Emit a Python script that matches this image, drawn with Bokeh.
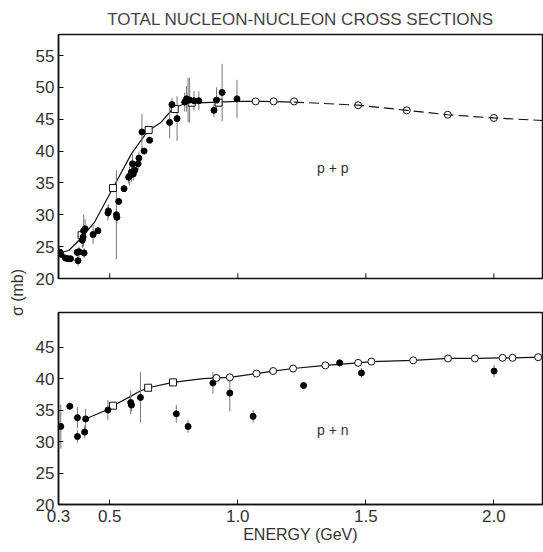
import math
from bokeh.plotting import figure
from bokeh.layouts import row, column
from bokeh.models import FixedTicker, NumeralTickFormatter
from bokeh.core.properties import value
from bokeh.embed import file_html
from bokeh.resources import INLINE

# ---------------- data: p + p ----------------
pp_curve_e = [0.30, 0.34, 0.39, 0.44, 0.51, 0.585, 0.65, 0.70, 0.75, 0.80, 0.92, 1.00, 1.10, 1.22]
pp_curve_s = [24.0, 24.4, 26.4, 28.8, 34.0, 39.6, 43.2, 44.5, 46.8, 47.5, 47.7, 47.8, 47.8, 47.7]
pp_dash_e = [1.22, 1.47, 1.66, 1.82, 2.00, 2.19]
pp_dash_s = [47.7, 47.2, 46.4, 45.7, 45.2, 44.8]

pp_sq_e = [0.30, 0.39, 0.513, 0.652, 0.754, 0.82, 0.925]
pp_sq_s = [24.0, 26.8, 34.2, 43.3, 46.6, 47.6, 47.6]
pp_circ_e = [1.07, 1.14, 1.22, 1.47, 1.66, 1.82, 2.00]
pp_circ_s = [47.8, 47.8, 47.8, 47.2, 46.4, 45.7, 45.2]

pp_e = [0.305, 0.31, 0.327, 0.337, 0.347, 0.376, 0.373, 0.38, 0.393, 0.396, 0.398, 0.40,
        0.404, 0.435, 0.454, 0.493, 0.495, 0.526, 0.528, 0.535, 0.556, 0.574, 0.578,
        0.585, 0.589, 0.592, 0.598, 0.611, 0.614, 0.626, 0.634, 0.656, 0.734, 0.743,
        0.763, 0.793, 0.80, 0.806, 0.812, 0.829, 0.848, 0.907, 0.917, 0.939, 0.997]
pp_s = [24.1, 23.8, 23.2, 23.1, 23.1, 22.8, 24.1, 24.2, 26.0, 26.5, 27.5, 24.0,
        27.8, 26.9, 27.5, 30.3, 30.6, 30.0, 29.6, 32.1, 34.1, 35.9, 36.1,
        36.7, 38.0, 36.4, 37.0, 38.0, 38.9, 43.0, 40.0, 41.7, 44.5, 47.3,
        45.1, 47.7, 48.2, 48.0, 48.0, 47.9, 47.9, 46.4, 48.0, 49.2, 48.2]
pp_err = [0.8, 0.5, 0.4, 0.3, 0.3, 0.8, 0.6, 0.8, 1.2, 1.5, 2.5, 0.8,
          1.5, 1.5, 0.5, 1.2, 1.0, 7.0, 1.0, 0.5, 0.5, 1.0, 1.5,
          1.5, 1.5, 1.0, 1.0, 1.0, 1.0, 2.8, 0.5, 0.5, 2.5, 1.0,
          3.5, 1.5, 2.0, 3.5, 3.5, 1.5, 1.5, 1.0, 2.0, 4.5, 3.0]

# ---------------- data: p + n ----------------
pn_curve_e = [0.40, 0.50, 0.513, 0.578, 0.617, 0.65, 0.747, 0.864, 0.917, 0.969, 1.073, 1.138,
              1.216, 1.342, 1.47, 1.522, 1.685, 1.821, 1.926, 2.034, 2.073, 2.19]
pn_curve_s = [33.5, 35.2, 35.7, 37.1, 38.0, 38.55, 39.4, 40.0, 40.1, 40.2, 40.8, 41.2,
              41.6, 42.1, 42.5, 42.7, 42.9, 43.2, 43.2, 43.3, 43.3, 43.4]
pn_sq_e = [0.513, 0.65, 0.747]
pn_sq_s = [35.7, 38.55, 39.4]
pn_circ_e = [0.917, 0.969, 1.073, 1.138, 1.216, 1.342, 1.47, 1.522, 1.685, 1.821, 1.926, 2.034, 2.073, 2.173]
pn_circ_s = [40.1, 40.2, 40.8, 41.2, 41.6, 42.1, 42.5, 42.7, 42.9, 43.2, 43.2, 43.3, 43.3, 43.4]

pn_e = [0.309, 0.344, 0.374, 0.374, 0.402, 0.406, 0.493, 0.582, 0.585, 0.62, 0.76, 0.806,
        0.903, 0.969, 1.06, 1.257, 1.398, 1.483, 2.001]
pn_s = [32.4, 35.6, 33.8, 30.8, 31.5, 33.6, 35.0, 36.2, 35.8, 37.0, 34.4, 32.4,
        39.3, 37.7, 34.0, 38.9, 42.5, 40.9, 41.2]
pn_err = [3.5, 0.5, 1.7, 1.0, 1.0, 1.6, 1.6, 1.9, 1.0, 4.0, 1.4, 1.0,
          1.7, 2.9, 1.0, 0.5, 0.5, 0.8, 1.0]

x_ticks = [0.3, 0.5, 1.0, 1.5, 2.0]
top_y_ticks = [20, 25, 30, 35, 40, 45, 50, 55]
bot_y_ticks = [20, 25, 30, 35, 40, 45]

FONT = "Liberation Sans"
TXT = "#333333"
INK = "#111111"


def style_axis(ax):
    ax.axis_line_color = INK
    ax.axis_line_width = 1.5
    ax.major_tick_in = 5
    ax.major_tick_out = 0
    ax.minor_tick_line_color = None
    ax.major_tick_line_color = INK
    ax.major_label_text_font = FONT
    ax.major_label_text_font_size = "17px"
    ax.major_label_text_color = TXT


def style(p, y_ticks):
    p.xgrid.visible = False
    p.ygrid.visible = False
    p.outline_line_color = INK
    p.outline_line_width = 1.5
    for ax in list(p.xaxis) + list(p.yaxis):
        style_axis(ax)
    p.yaxis[0].ticker = FixedTicker(ticks=y_ticks)
    p.yaxis[0].major_label_standoff = 4


def draw(p, ce, cs, sqe, sqs, cie, cis, e, s, err):
    p.line(ce, cs, line_color=INK, line_width=1.2)
    lo = [a - b for a, b in zip(s, err)]
    hi = [a + b for a, b in zip(s, err)]
    p.segment(x0=e, y0=lo, x1=e, y1=hi, line_color="#777777", line_width=1)
    p.scatter(sqe, sqs, marker="square", size=7, fill_color="white", line_color=INK, line_width=1)
    p.scatter(cie, cis, marker="circle", size=7, fill_color="white", line_color=INK, line_width=1)
    p.scatter(e, s, marker="circle", size=6, fill_color="black", line_color="black")


top = figure(width=513, height=295, x_range=(0.3, 2.19), y_range=(20, 58.3),
             toolbar_location=None, output_backend="svg", x_axis_location=None,
             min_border_left=28, min_border_right=1, min_border_top=34, min_border_bottom=17)
top.title.text = "TOTAL NUCLEON-NUCLEON CROSS SECTIONS"
top.title.align = "center"
top.title.text_font = FONT
top.title.text_font_style = "normal"
top.title.text_font_size = "17px"
top.title.text_color = "#444444"
top.title.standoff = 12
style(top, top_y_ticks)
draw(top, pp_curve_e, pp_curve_s, pp_sq_e, pp_sq_s, pp_circ_e, pp_circ_s, pp_e, pp_s, pp_err)
top.line(pp_dash_e, pp_dash_s, line_color=INK, line_width=1.2, line_dash="10 5")
# inward tick marks on the bottom edge of the upper panel
top.segment(x0=x_ticks[1:], y0=[20] * 4, x1=x_ticks[1:], y1=[20.8] * 4, line_color=INK, line_width=1)
top.text(x=[1.371], y=[37.4], text=["p + p"], text_font=value(FONT), text_font_size="14px",
         text_color=TXT, text_align="center", text_baseline="middle")

bot = figure(width=513, height=257, x_range=(0.3, 2.19), y_range=(20, 50.5),
             toolbar_location=None, output_backend="svg",
             min_border_left=28, min_border_right=1, min_border_top=17, min_border_bottom=48)
bot.title.visible = False
style(bot, bot_y_ticks)
bot.xaxis[0].ticker = FixedTicker(ticks=x_ticks)
bot.xaxis[0].formatter = NumeralTickFormatter(format="0.0")
bot.xaxis[0].major_label_standoff = 5
bot.xaxis[0].axis_label = "ENERGY (GeV)"
bot.xaxis[0].axis_label_text_font = FONT
bot.xaxis[0].axis_label_text_font_style = "normal"
bot.xaxis[0].axis_label_text_font_size = "16px"
bot.xaxis[0].axis_label_text_color = TXT
bot.xaxis[0].axis_label_standoff = 1
draw(bot, pn_curve_e, pn_curve_s, pn_sq_e, pn_sq_s, pn_circ_e, pn_circ_s, pn_e, pn_s, pn_err)
bot.text(x=[1.371], y=[31.9], text=["p + n"], text_font=value(FONT), text_font_size="14px",
         text_color=TXT, text_align="center", text_baseline="middle")

lab = figure(width=30, height=552, x_range=(0, 1), y_range=(0, 1),
             toolbar_location=None, output_backend="svg", min_border=0)
lab.title.visible = False
lab.axis.visible = False
lab.xgrid.visible = False
lab.ygrid.visible = False
lab.outline_line_color = None
lab.text(x=[0.57], y=[1 - 292 / 552], text=["σ (mb)"], angle=math.pi / 2,
         text_font=value(FONT), text_font_size="16px", text_color=TXT,
         text_align="center", text_baseline="middle")

layout = row(lab, column(top, bot))
open("out.html", "w").write(file_html(layout, INLINE))
